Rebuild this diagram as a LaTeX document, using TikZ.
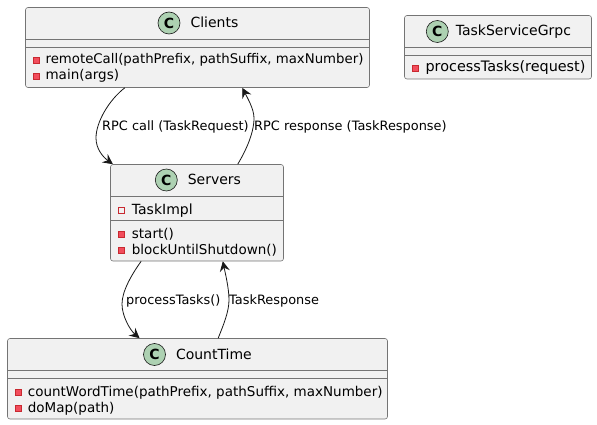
\documentclass[tikz,border=0pt]{standalone}
\usepackage{fontspec}
\setmainfont{DejaVu Sans}
\usetikzlibrary{positioning,arrows.meta}
\definecolor{boxfill}{HTML}{F1F1F1}
\definecolor{boxline}{HTML}{181818}
\definecolor{spotfill}{HTML}{ADD1B2}
\definecolor{markfill}{HTML}{F24D5C}
\definecolor{markline}{HTML}{C82930}
\tikzset{
    classbox/.style = {draw=boxline!60, fill=boxfill, rectangle, line width=.6pt,
        rounded corners=2.5pt, inner sep=0pt},
    spot/.style = {draw=boxline, fill=spotfill, circle, line width=.6pt,
        minimum size=22pt, inner sep=0pt, font=\fontsize{14}{14}\selectfont\bfseries},
    classname/.style = {inner sep=0pt, text height=12pt, text depth=3pt,
        font=\fontsize{14}{14}\selectfont, text=black},
    member/.style = {inner sep=0pt, text height=11pt, text depth=3pt,
        font=\fontsize{13.5}{14}\selectfont, text=black},
    method/.style = {draw=markline, fill=markfill, rectangle, line width=.8pt,
        minimum size=6pt, inner sep=0pt},
    field/.style = {method, fill=boxfill},
    divider/.style = {draw=boxline!60, line width=.6pt},
    arrow/.style = {draw=boxline, line width=.8pt, -{Stealth[length=10pt,width=10pt,inset=3.5pt]}},
    edgelabel/.style = {inner sep=0pt, text height=10pt, text depth=3pt,
        font=\fontsize{12.9}{13}\selectfont, text=black, anchor=west}
}
\begin{document}
\begin{tikzpicture}[x=1pt,y=-1pt]
        \useasboundingbox (0,0) rectangle (597,425);
        % boxes
        \node [classbox, minimum width=344pt, minimum height=80pt] (clients) at (197.5,47.5) {};
        \node [classbox, minimum width=187pt, minimum height=63.5pt] (grpc) at (498,47.25) {};
        \node [classbox, minimum width=173pt, minimum height=96.5pt] (servers) at (197,212.75) {};
        \node [classbox, minimum width=380pt, minimum height=80.5pt] (count) at (197.5,378.75) {};
        % dividers
        \draw [divider] (clients.west |- 0,39.5) -- (clients.east |- 0,39.5);
        \draw [divider] (clients.west |- 0,47.5) -- (clients.east |- 0,47.5);
        \draw [divider] (grpc.west |- 0,47.5) -- (grpc.east |- 0,47.5);
        \draw [divider] (grpc.west |- 0,55) -- (grpc.east |- 0,55);
        \draw [divider] (servers.west |- 0,196.5) -- (servers.east |- 0,196.5);
        \draw [divider] (servers.west |- 0,220.5) -- (servers.east |- 0,220.5);
        \draw [divider] (count.west |- 0,370.5) -- (count.east |- 0,370.5);
        \draw [divider] (count.west |- 0,378.5) -- (count.east |- 0,378.5);
        % headers
        \node [spot] (clientsC) at (169,23) {C};
        \node [classname, anchor=west, right=10pt of clientsC] (clientsName) {Clients};
        \node [spot] (grpcC) at (437.3,31.5) {C};
        \node [classname, anchor=west, right=7pt of grpcC] (grpcName) {TaskServiceGrpc};
        \node [spot] (serversC) at (166.3,180) {C};
        \node [classname, anchor=west, right=10pt of serversC] (serversName) {Servers};
        \node [spot] (countC) at (154.5,354.5) {C};
        \node [classname, anchor=west, right=10pt of countC] (countName) {CountTime};
        % members
        \node [method] (m1) at (36.5,60) {};
        \node [member, right=5.5pt of m1, font=\fontsize{13.3}{14}\selectfont] (t1) {remoteCall(pathPrefix, pathSuffix, maxNumber)};
        \node [method] (m2) at (36.5,76) {};
        \node [member, right=5.5pt of m2] (t2) {main(args)};
        \node [method] (m3) at (415.5,68) {};
        \node [member, right=6.5pt of m3, font=\fontsize{14.4}{14}\selectfont] (t3) {processTasks(request)};
        \node [field] (m4) at (121.3,210) {};
        \node [member, right=7pt of m4, font=\fontsize{14}{14}\selectfont] (t4) {TaskImpl};
        \node [method] (m5) at (121.3,234) {};
        \node [member, right=7pt of m5] (t5) {start()};
        \node [method] (m6) at (121.3,250) {};
        \node [member, right=7pt of m6] (t6) {blockUntilShutdown()};
        \node [method] (m7) at (18.3,392) {};
        \node [member, right=6pt of m7] (t7) {countWordTime(pathPrefix, pathSuffix, maxNumber)};
        \node [method] (m8) at (18.3,408) {};
        \node [member, right=6pt of m8] (t8) {doMap(path)};
        % connectors
        \draw [arrow] (clients.209.2) .. controls (109,100) and (96,122) .. (96,138) .. controls (96,149) and (103,157) .. (servers.150.1);
        \draw [arrow] (servers.50.1) .. controls (245,152) and (254,134) .. (254,118) .. controls (254,109) and (247,97) .. (clients.-42.9);
        \draw [arrow] (servers.221.4) .. controls (132,274) and (122,291) .. (122,304) .. controls (122,316) and (130,330) .. (count.145.5);
        \draw [arrow] (count.63.8) .. controls (223,326) and (229,312) .. (229,300) .. controls (229,288) and (225,272) .. (servers.-62.9);
        % labels
        \node [edgelabel] (callLabel) at (102,127) {RPC call (TaskRequest)};
        \node [edgelabel] (respLabel) at (254,127) {RPC response (TaskResponse)};
        \node [edgelabel] (procLabel) at (126,300.5) {processTasks()};
        \node [edgelabel] (taskLabel) at (229,300.5) {TaskResponse};
\end{tikzpicture}
\end{document}
